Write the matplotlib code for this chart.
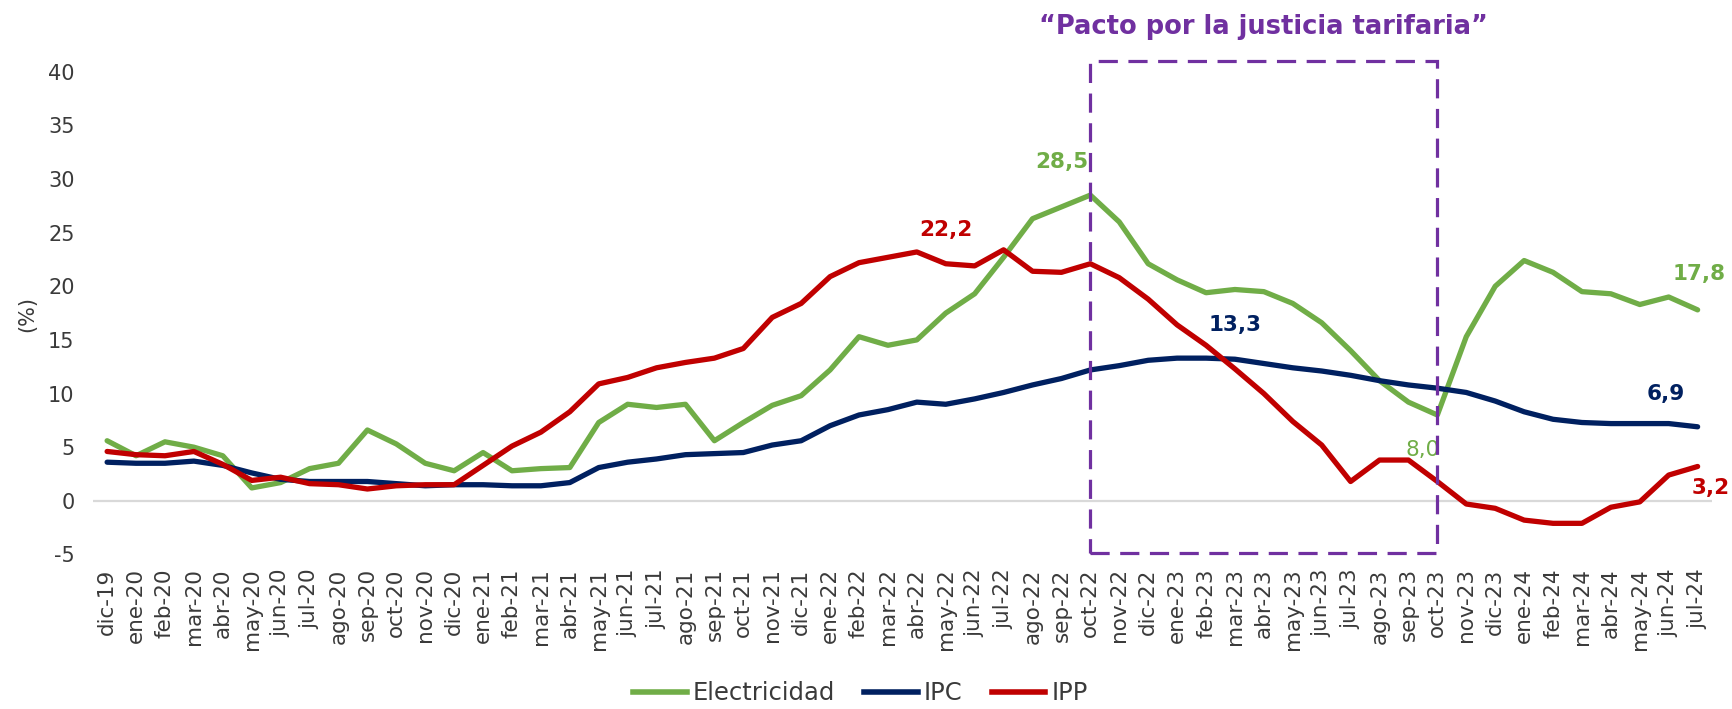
import numpy as np
import matplotlib.pyplot as plt
from matplotlib.patches import Rectangle
from matplotlib.lines import Line2D

plt.rcParams['axes.unicode_minus'] = False

# --- data (annual variation, %)
months = ['dic-19',
          'ene-20', 'feb-20', 'mar-20', 'abr-20', 'may-20', 'jun-20', 'jul-20', 'ago-20', 'sep-20', 'oct-20', 'nov-20', 'dic-20',
          'ene-21', 'feb-21', 'mar-21', 'abr-21', 'may-21', 'jun-21', 'jul-21', 'ago-21', 'sep-21', 'oct-21', 'nov-21', 'dic-21',
          'ene-22', 'feb-22', 'mar-22', 'abr-22', 'may-22', 'jun-22', 'jul-22', 'ago-22', 'sep-22', 'oct-22', 'nov-22', 'dic-22',
          'ene-23', 'feb-23', 'mar-23', 'abr-23', 'may-23', 'jun-23', 'jul-23', 'ago-23', 'sep-23', 'oct-23', 'nov-23', 'dic-23',
          'ene-24', 'feb-24', 'mar-24', 'abr-24', 'may-24', 'jun-24', 'jul-24']

electricidad = [5.6, 4.2, 5.5, 5.0, 4.2, 1.2, 1.7, 3.0, 3.5, 6.6, 5.3, 3.5, 2.8,
                4.5, 2.8, 3.0, 3.1, 7.3, 9.0, 8.7, 9.0, 5.6, 7.3, 8.9, 9.8,
                12.2, 15.3, 14.5, 15.0, 17.5, 19.3, 22.7, 26.3, 27.4, 28.5, 26.0, 22.1,
                20.6, 19.4, 19.7, 19.5, 18.4, 16.6, 14.0, 11.2, 9.2, 8.0, 15.3, 20.0,
                22.4, 21.3, 19.5, 19.3, 18.3, 19.0, 17.8]

ipc = [3.6, 3.5, 3.5, 3.7, 3.3, 2.6, 2.0, 1.8, 1.8, 1.8, 1.6, 1.4, 1.5,
       1.5, 1.4, 1.4, 1.7, 3.1, 3.6, 3.9, 4.3, 4.4, 4.5, 5.2, 5.6,
       7.0, 8.0, 8.5, 9.2, 9.0, 9.5, 10.1, 10.8, 11.4, 12.2, 12.6, 13.1,
       13.3, 13.3, 13.2, 12.8, 12.4, 12.1, 11.7, 11.2, 10.8, 10.5, 10.1, 9.3,
       8.3, 7.6, 7.3, 7.2, 7.2, 7.2, 6.9]

ipp = [4.6, 4.3, 4.2, 4.6, 3.4, 1.9, 2.2, 1.6, 1.5, 1.1, 1.4, 1.5, 1.5,
       3.3, 5.1, 6.4, 8.3, 10.9, 11.5, 12.4, 12.9, 13.3, 14.2, 17.1, 18.4,
       20.9, 22.2, 22.7, 23.2, 22.1, 21.9, 23.4, 21.4, 21.3, 22.1, 20.8, 18.8,
       16.4, 14.5, 12.3, 10.0, 7.4, 5.2, 1.8, 3.8, 3.8, 1.8, -0.3, -0.7,
       -1.8, -2.1, -2.1, -0.6, -0.1, 2.4, 3.2]

green = '#70AD47'
navy = '#002060'
red = '#C00000'
purple = '#7030A0'
grey_txt = '#3A3A3A'

x = np.arange(len(months))

fig = plt.figure(figsize=(17.32, 7.09), dpi=100)
ax = fig.add_axes([0.0535, 0.218, 0.935, 0.7035])

ax.axhline(0, color='#D9D9D9', lw=1.6, zorder=1)
ax.plot(x, electricidad, color=green, lw=3.8, solid_joinstyle='round', solid_capstyle='round', zorder=3)
ax.plot(x, ipc, color=navy, lw=3.8, solid_joinstyle='round', solid_capstyle='round', zorder=3)
ax.plot(x, ipp, color=red, lw=3.8, solid_joinstyle='round', solid_capstyle='round', zorder=4)

ax.set_xlim(-0.5, 55.5)
ax.set_ylim(-5, 41.5)
ax.set_yticks(range(-5, 41, 5))
ax.set_xticks(x)
ax.set_xticklabels(months, rotation=90)
ax.tick_params(axis='y', length=0, labelsize=15, labelcolor=grey_txt, pad=13)
ax.tick_params(axis='x', length=0, labelsize=15.5, labelcolor=grey_txt, pad=10)
for s in ax.spines.values():
    s.set_visible(False)

# "Pacto por la justicia tarifaria" box (oct-22 to oct-23)
box = Rectangle((34, -4.86), 12, 45.9, fill=False, edgecolor=purple, lw=2.3,
                linestyle=(0, (6, 3.3)), clip_on=False, zorder=5)
ax.add_patch(box)
ax.text(40, 44.2, '\u201cPacto por la justicia tarifaria\u201d', ha='center', va='center',
        fontsize=18.5, fontweight='bold', color=purple, clip_on=False)

# data labels
lab = dict(ha='center', va='center', fontsize=15.5, fontweight='bold', clip_on=False)
ax.text(33.0, 31.6, '28,5', color=green, **lab)
ax.text(29.0, 25.2, '22,2', color=red, **lab)
ax.text(39.0, 16.4, '13,3', color=navy, **lab)
ax.text(45.48, 4.7, '8,0', color=green, ha='center', va='center', fontsize=15.5, clip_on=False)
ax.text(55.05, 21.1, '17,8', color=green, **lab)
ax.text(53.9, 10.0, '6,9', color=navy, **lab)
ax.text(55.45, 1.2, '3,2', color=red, **lab)

fig.text(0.0156, 0.557, '(%)', rotation=90, ha='center', va='center', fontsize=15, color=grey_txt)

handles = [Line2D([], [], color=green, lw=4),
           Line2D([], [], color=navy, lw=4),
           Line2D([], [], color=red, lw=4)]
fig.legend(handles, ['Electricidad', 'IPC', 'IPP'], loc='center', bbox_to_anchor=(0.4967, 0.022),
           ncol=3, frameon=False, fontsize=17.5, handlelength=2.2, handletextpad=0.25,
           columnspacing=1.2, labelcolor=grey_txt)

plt.savefig('out.png', dpi=100)
